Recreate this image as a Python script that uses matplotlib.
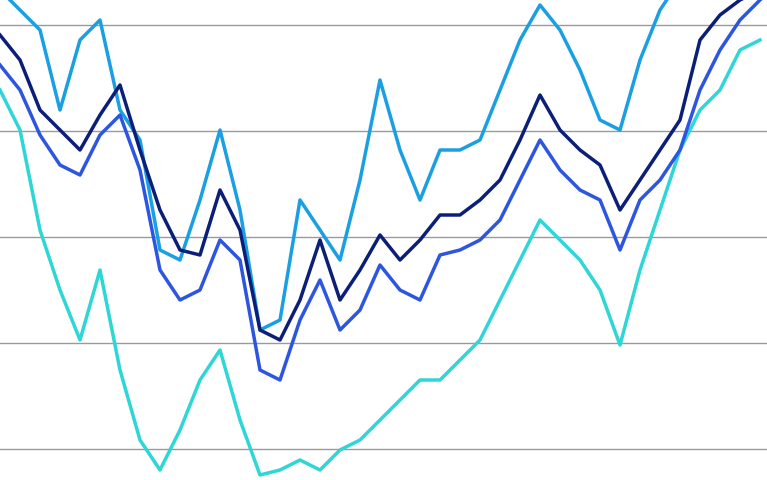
import numpy as np
import matplotlib.pyplot as plt

# x positions (pixels across) and line heights (pixel rows from top)
x = list(range(0, 780, 20))
navy = [35, 60, 110, 130, 150, 115, 85, 150, 210, 250, 255, 190, 230, 330, 340, 300, 240, 300, 270, 235,
        260, 240, 215, 215, 200, 180, 140, 95, 130, 150, 165, 210, 180, 150, 120, 40, 15, 0, -10]
blue = [65, 90, 135, 165, 175, 135, 115, 170, 270, 300, 290, 240, 260, 370, 380, 320, 280, 330, 310, 265,
        290, 300, 255, 250, 240, 220, 180, 140, 170, 190, 200, 250, 200, 180, 150, 90, 50, 20, 0]
sky = [-10, 10, 30, 110, 40, 20, 110, 140, 250, 260, 200, 130, 210, 330, 320, 200, 230, 260, 180, 80,
       150, 200, 150, 150, 140, 90, 40, 5, 30, 70, 120, 130, 60, 10, -20, -30, -30, -30, -30]
teal = [90, 130, 230, 290, 340, 270, 370, 440, 470, 430, 380, 350, 420, 475, 470, 460, 470, 450, 440, 420,
        400, 380, 380, 360, 340, 300, 260, 220, 240, 260, 290, 345, 270, 210, 150, 110, 90, 50, 40]
grid_rows = [25, 131, 237, 343, 449]

fig = plt.figure(figsize=(7.67, 4.80), dpi=100)
ax = fig.add_axes([0, 0, 1, 1])
for g in grid_rows:
    ax.axhline(g, color='#9a9a9a', lw=1, zorder=0)
for ys, c in [(teal, '#2ed6d6'), (sky, '#1b9fe3'), (blue, '#2c55e0'), (navy, '#0b1f78')]:
    ax.plot(x, ys, color=c, lw=2.5)
ax.set_xlim(0, 767)
ax.set_ylim(480, 0)
ax.axis('off')
fig.savefig('out.png')
